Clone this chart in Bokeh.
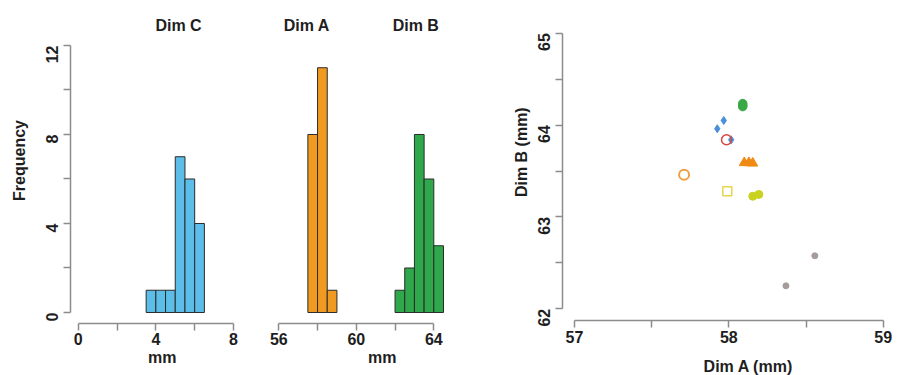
from bokeh.plotting import figure
from bokeh.models import Range1d, FixedTicker, Label, ColumnDataSource, LinearAxis
from bokeh.embed import file_html
from bokeh.resources import INLINE
import math

# ---------------- data ----------------
dimc_edges = [3.5, 4.0, 4.5, 5.0, 5.5, 6.0, 6.5]
dimc_counts = [1, 1, 1, 7, 6, 4]
dima_edges = [57.5, 58.0, 58.5, 59.0]
dima_counts = [8, 11, 1]
dimb_edges = [62.0, 62.5, 63.0, 63.5, 64.0, 64.5]
dimb_counts = [1, 2, 8, 6, 3]

freq_ticks = [0, 4, 8, 12]
freq_minor = [2, 6, 10]
mm1_ticks = [0, 4, 8]
mm1_minor = [2, 6]
mm2_ticks = [56, 60, 64]
mm2_minor = [58, 62]
sa_ticks = [57, 58, 59]
sa_minor = [57.5, 58.5]
sb_ticks = [62, 63, 64, 65]
sb_minor = [62.5, 63.5, 64.5]

# scatter groups (Dim A, Dim B)
green_a = [58.09, 58.09, 58.09]
green_b = [64.234, 64.215, 64.201]
blue_a = [57.967, 57.925, 58.015]
blue_b = [64.05, 63.96, 63.84]
red_a = [57.985]
red_b = [63.84]
otri_a = [58.10, 58.13, 58.155]
otri_b = [63.59, 63.59, 63.585]
ocirc_a = [57.71]
ocirc_b = [63.46]
ysq_a = [57.99]
ysq_b = [63.28]
yg_a = [58.155, 58.194]
yg_b = [63.225, 63.245]
gray_a = [58.37, 58.557]
gray_b = [62.25, 62.577]

FONT = "Liberation Sans"
AXC = "#8c8c8c"
TXT = "#1e1e1e"

# one canvas covering the window; default ranges are page pixels (y downward) for text
p = figure(width=898, height=375, x_range=Range1d(0, 898), y_range=Range1d(375, 0),
           output_backend="svg", toolbar_location=None, title=None,
           x_axis_location=None, y_axis_location=None,
           min_border_left=0, min_border_right=0, min_border_top=0, min_border_bottom=0)
p.outline_line_color = None
p.xgrid.visible = False
p.ygrid.visible = False
p.background_fill_color = "white"
p.border_fill_color = "white"

# per-panel scales
p.extra_x_ranges = {"c": Range1d(-4.0026, 42.2563),
                    "ab": Range1d(41.6361, 87.9845),
                    "sa": Range1d(53.2812, 59.0991)}
p.extra_y_ranges = {"f": Range1d(-2.8315, 14.0224),
                    "sb": Range1d(61.2740, 65.3560)}


def make_axis(xr, yr, loc, ticks, minor, bounds, side):
    ax = LinearAxis(x_range_name=xr, y_range_name=yr, fixed_location=loc)
    ax.ticker = FixedTicker(ticks=ticks, minor_ticks=minor)
    ax.bounds = bounds
    ax.axis_line_color = AXC
    ax.axis_line_width = 1.5
    ax.major_tick_line_color = AXC
    ax.major_tick_line_width = 1.5
    ax.minor_tick_line_color = AXC
    ax.minor_tick_line_width = 1.5
    ax.major_tick_out = 7
    ax.major_tick_in = 0
    ax.minor_tick_out = 7
    ax.minor_tick_in = 0
    ax.major_label_text_font = FONT
    ax.major_label_text_font_style = "bold"
    ax.major_label_text_font_size = "16px"
    ax.major_label_text_color = TXT
    if side == "left":
        ax.major_label_orientation = math.pi / 2
        ax.major_label_standoff = 11
    else:
        ax.major_label_standoff = 3
    p.add_layout(ax, side)
    return ax


def add_label(x, y, text, angle=0):
    p.add_layout(Label(x=x, y=y, text=text, angle=angle, text_align="center",
                       text_baseline="alphabetic", text_font=FONT, text_font_style="bold",
                       text_font_size="16px", text_color=TXT))


# ---------- histograms ----------
src_c = ColumnDataSource(dict(l=dimc_edges[:-1], r=dimc_edges[1:], t=dimc_counts))
src_a = ColumnDataSource(dict(l=dima_edges[:-1], r=dima_edges[1:], t=dima_counts))
src_b = ColumnDataSource(dict(l=dimb_edges[:-1], r=dimb_edges[1:], t=dimb_counts))
p.quad(left="l", right="r", bottom=0, top="t", source=src_c, x_range_name="c", y_range_name="f",
       fill_color="#5bbde8", line_color="#2b2b2b", line_width=1)
p.quad(left="l", right="r", bottom=0, top="t", source=src_a, x_range_name="ab", y_range_name="f",
       fill_color="#f19a22", line_color="#2b2b2b", line_width=1)
p.quad(left="l", right="r", bottom=0, top="t", source=src_b, x_range_name="ab", y_range_name="f",
       fill_color="#2ea84a", line_color="#2b2b2b", line_width=1)

make_axis("c", "f", -0.4809, mm1_ticks, mm1_minor, (0, 8), "below")
make_axis("c", "f", -0.3967, freq_ticks, freq_minor, (0, 12), "left")
make_axis("ab", "f", -0.4809, mm2_ticks, mm2_minor, (56, 64), "below")

# ---------- scatter ----------
kw = dict(x_range_name="sa", y_range_name="sb")
p.scatter(green_a, green_b, marker="circle", size=8.5, fill_color="#3aa945", line_color="#3aa945", **kw)
p.scatter(blue_a, blue_b, marker="diamond", size=8, fill_color="#4a90d9", line_color="#4a90d9", **kw)
p.scatter(red_a, red_b, marker="circle", size=10, fill_color=None, line_color="#d9443f", line_width=1.5, **kw)
p.scatter(otri_a, otri_b, marker="triangle", size=10, fill_color="#f08a12", line_color="#f08a12", **kw)
p.scatter(ocirc_a, ocirc_b, marker="circle", size=10, fill_color=None, line_color="#f0a044", line_width=2, **kw)
p.scatter(ysq_a, ysq_b, marker="square", size=9, fill_color=None, line_color="#e5d64c", line_width=1.5, **kw)
p.scatter(yg_a, yg_b, marker="circle", size=8, fill_color="#c9d21e", line_color="#c9d21e", **kw)
p.scatter(gray_a, gray_b, marker="circle", size=6, fill_color="#a39c9a", line_color="#a39c9a", **kw)

make_axis("sa", "sb", 61.8726, sa_ticks, sa_minor, (57, 59), "below")
make_axis("sa", "sb", 56.9203, sb_ticks, sb_minor, (62, 65), "left")

# ---------- titles and axis titles (page-pixel positions) ----------
add_label(178, 24.5, "Dim C")
add_label(306.3, 24.5, "Dim A")
add_label(415.3, 24.5, "Dim B")
add_label(18.5, 160, "Frequency", angle=math.pi / 2)
add_label(161.8, 357, "mm")
add_label(381.7, 357, "mm")
add_label(748, 366, "Dim A (mm)")
add_label(521, 151.7, "Dim B (mm)", angle=math.pi / 2)

open("out.html", "w").write(file_html(p, INLINE))
